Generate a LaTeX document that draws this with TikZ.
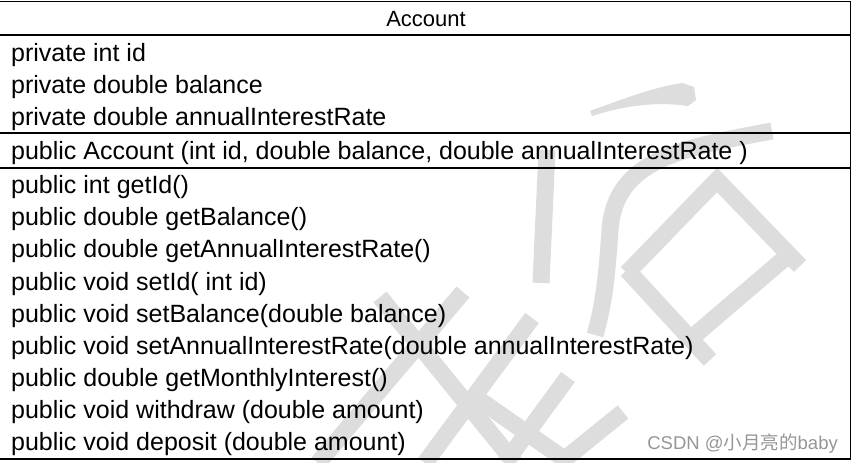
\documentclass[tikz,border=0pt]{standalone}
\usepackage{fontspec}
\setmainfont{Liberation Sans}
\newfontfamily\cjk{Noto Sans CJK SC}
\definecolor{wm}{RGB}{221,221,221}
\definecolor{csdn}{RGB}{150,150,150}
\tikzset{
  row/.style={anchor=base west, inner sep=0pt, font=\fontsize{25}{28}\selectfont},
  hdr/.style={anchor=base, inner sep=0pt, font=\fontsize{22}{26}\selectfont},
  rule/.style={line width=1.3pt, black},
  wmstroke/.style={wm, line width=17pt, line cap=butt},
}
\begin{document}
\begin{tikzpicture}[x=1pt,y=-1pt]
\useasboundingbox (0,0) rectangle (854,463);
\fill[white] (0,0) rectangle (854,463);
% watermark
\fill[wm] (590,111) .. controls (630,96) and (660,86) .. (682,83) -- (694,87) -- (696,100) -- (688,106) .. controls (660,102) and (630,104) .. (592,116) -- cycle;
\draw[wmstroke] (772,131) .. controls (680,148) and (615,160) .. (610,230) .. controls (606,290) and (602,310) .. (595,335);
\draw[wmstroke] (547,150) -- (541,283);
\draw[wmstroke] (627,273) -- (717,180) -- (800,266);
\draw[wmstroke] (627,270) -- (710,360);
\draw[wmstroke] (792,252) -- (695,335);
\draw[wmstroke] (463,292) -- (318,463);
\draw[wmstroke] (380,297) -- (515,463);
\draw[wmstroke] (532,318) -- (425,463);
\draw[wmstroke] (468,392) -- (570,463);
\draw[wmstroke] (568,377) -- (505,463);
\draw[wmstroke] (623,412) -- (560,463);
% table frame
\coordinate (tl) at (0,1.5);
\coordinate (tr) at (850.5,1.5);
\coordinate (bl) at (0,459);
\coordinate (br) at (850.5,459);
\draw[rule] (tl) -- (tr) -- (br) -- (bl);
\draw[rule] (0,35) -- (850.5,35);
\draw[rule] (0,133) -- (850.5,133);
\draw[rule] (0,168) -- (850.5,168);
% header
\node[hdr] (title) at (426,26) {Account};
% attributes
\node[row] (a1) at (11,61) {private int id};
\node[row] (a2) at (11,93) {private double balance};
\node[row] (a3) at (11,125) {private double annualInterestRate};
% constructor
\node[row] (c1) at (11,159) {public Account (int id, double balance, double annualInterestRate )};
% methods
\node[row] (m1) at (11,193) {public int getId()};
\node[row] (m2) at (11,225) {public double getBalance()};
\node[row] (m3) at (11,257) {public double getAnnualInterestRate()};
\node[row] (m4) at (11,290) {public void setId( int id)};
\node[row] (m5) at (11,322) {public void setBalance(double balance)};
\node[row] (m6) at (11,354) {public void setAnnualInterestRate(double annualInterestRate)};
\node[row] (m7) at (11,386) {public double getMonthlyInterest()};
\node[row] (m8) at (11,418) {public void withdraw (double amount)};
\node[row] (m9) at (11,450) {public void deposit (double amount)};
% CSDN mark
\node[anchor=base east, inner sep=0pt, text=csdn, font=\fontsize{18.5}{21}\selectfont] (mark) at (838,449) {CSDN @{\cjk 小月亮的}baby};
\end{tikzpicture}
\end{document}
